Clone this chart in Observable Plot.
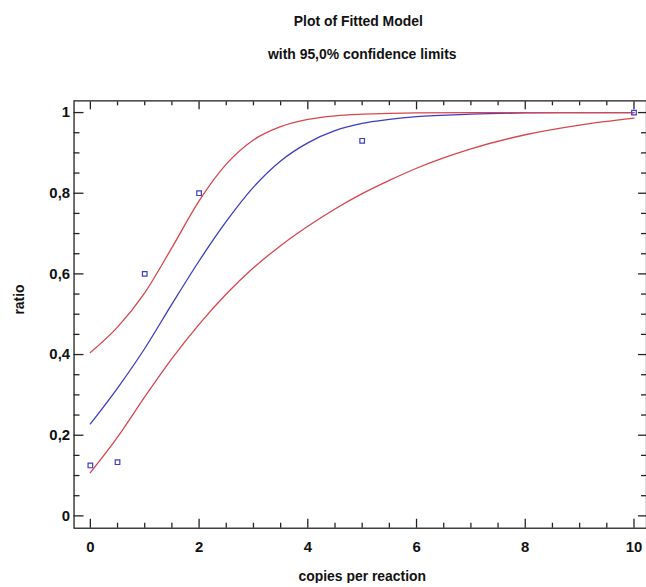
<!DOCTYPE html>
<html>
<head>
<meta charset="utf-8">
<script src="https://cdn.jsdelivr.net/npm/d3@7"></script>
<script src="https://cdn.jsdelivr.net/npm/@observablehq/plot@0.6"></script>
<style>
  html, body { margin: 0; padding: 0; background: #fff; }
  #wrap { width: 646px; height: 587px; overflow: hidden; }
</style>
</head>
<body>
<div id="wrap"></div>
<script>
// ---- data ----
const curveX     = [0, 0.5, 1, 1.5, 2, 2.5, 3, 3.5, 4, 4.5, 5, 5.5, 6, 7, 8, 9, 10];
const fitted     = [0.228, 0.317, 0.415, 0.525, 0.632, 0.73, 0.815, 0.88, 0.925, 0.955, 0.973, 0.983, 0.99, 0.996, 0.999, 1, 1];
const upperLimit = [0.405, 0.468, 0.553, 0.665, 0.781, 0.872, 0.932, 0.965, 0.983, 0.992, 0.996, 0.998, 0.999, 1, 1, 1, 1];
const lowerLimit = [0.107, 0.195, 0.295, 0.39, 0.475, 0.55, 0.615, 0.67, 0.718, 0.761, 0.799, 0.832, 0.862, 0.91, 0.945, 0.969, 0.986];

const obsX = [0, 0.5, 1, 2, 5, 10];
const obsY = [0.125, 0.133, 0.60, 0.80, 0.93, 1.0];

const xMajor = [0, 2, 4, 6, 8, 10];
const xMinor = [0.5, 1, 1.5, 2.5, 3, 3.5, 4.5, 5, 5.5, 6.5, 7, 7.5, 8.5, 9, 9.5];
const yMajor = [0, 0.2, 0.4, 0.6, 0.8, 1];
const yMinor = [0.05, 0.1, 0.15, 0.25, 0.3, 0.35, 0.45, 0.5, 0.55, 0.65, 0.7, 0.75, 0.85, 0.9, 0.95];

const title = "Plot of Fitted Model";
const subtitle = "with 95,0% confidence limits";
const xLabel = "copies per reaction";
const yLabel = "ratio";

// ---- build tables ----
const curves = curveX.map((x, i) => ({x, fit: fitted[i], up: upperLimit[i], lo: lowerLimit[i]}));
const obs = obsX.map((x, i) => ({x, y: obsY[i]}));
const fmtY = d => d === 0 ? "0" : d === 1 ? "1" : d.toFixed(1).replace(".", ",");

const RED = "#d8464c";
const BLUE = "#3c3cc4";
const AX = "#222";

const chart = Plot.plot({
  width: 650,
  height: 587,
  marginLeft: 74,
  marginRight: 0,
  marginTop: 101,
  marginBottom: 56,
  style: {fontFamily: "'Liberation Sans', Arial, sans-serif", fontSize: "14px", fontWeight: "bold", color: "#111", background: "#fff"},
  x: {domain: [-0.3, 10.23]},
  y: {domain: [-0.0306, 1.029]},
  marks: [
    Plot.frame({stroke: AX, strokeWidth: 1.3}),
    // left axis
    Plot.axisY({anchor: "left", ticks: yMajor, tickSize: -10, tickPadding: 14, tickFormat: fmtY, stroke: AX, strokeWidth: 1.3, fontSize: 15, label: null}),
    Plot.axisY({anchor: "left", ticks: yMinor, tickSize: -6, tickFormat: () => "", stroke: AX, strokeWidth: 1.3, label: null}),
    // right axis ticks
    Plot.axisY({anchor: "right", ticks: yMajor, tickSize: -9, tickFormat: () => "", stroke: AX, strokeWidth: 1.3, label: null}),
    Plot.axisY({anchor: "right", ticks: yMinor, tickSize: -6, tickFormat: () => "", stroke: AX, strokeWidth: 1.3, label: null}),
    // bottom axis
    Plot.axisX({anchor: "bottom", ticks: xMajor, tickSize: -9, tickPadding: 22, tickFormat: d => String(d), stroke: AX, strokeWidth: 1.3, fontSize: 15, label: null}),
    Plot.axisX({anchor: "bottom", ticks: xMinor, tickSize: -5, tickFormat: () => "", stroke: AX, strokeWidth: 1.3, label: null}),
    // top axis ticks
    Plot.axisX({anchor: "top", ticks: xMajor, tickSize: -8, tickFormat: () => "", stroke: AX, strokeWidth: 1.3, label: null}),
    Plot.axisX({anchor: "top", ticks: xMinor, tickSize: -4, tickFormat: () => "", stroke: AX, strokeWidth: 1.3, label: null}),
    // curves
    Plot.line(curves, {x: "x", y: "lo", stroke: RED, strokeWidth: 1.3, curve: "monotone-x"}),
    Plot.line(curves, {x: "x", y: "fit", stroke: BLUE, strokeWidth: 1.3, curve: "monotone-x"}),
    Plot.line(curves, {x: "x", y: "up", stroke: RED, strokeWidth: 1.3, curve: "monotone-x"}),
    // observations
    Plot.dot(obs, {x: "x", y: "y", symbol: "square", r: 2.6, stroke: BLUE, strokeWidth: 1.2, fill: "none"}),
    // titles & labels
    Plot.text([title], {frameAnchor: "top", dx: -2, dy: -85, fontSize: 14, fontWeight: "bold", fill: "#111"}),
    Plot.text([subtitle], {frameAnchor: "top", dx: 2, dy: -52, fontSize: 14, fontWeight: "bold", fill: "#111"}),
    Plot.text([xLabel], {frameAnchor: "bottom", dx: 2, dy: 53, fontSize: 14, fontWeight: "bold", fill: "#111"}),
    Plot.text([yLabel], {frameAnchor: "left", dx: -55, rotate: -90, fontSize: 14, fontWeight: "bold", fill: "#111"})
  ]
});
document.getElementById("wrap").appendChild(chart);
</script>
</body>
</html>
